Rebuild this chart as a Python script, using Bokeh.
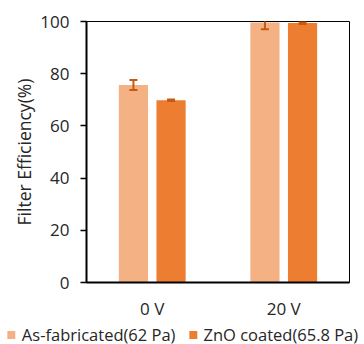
from bokeh.plotting import figure
from bokeh.layouts import column
from bokeh.models import ColumnDataSource, FactorRange, Range1d, Legend, LegendItem, FixedTicker
from bokeh.transform import dodge
from bokeh.embed import file_html
from bokeh.resources import INLINE

categories = ["0 V", "20 V"]
series_names = ["As-fabricated(62 Pa)", "ZnO coated(65.8 Pa)"]
as_fab = [75.7, 99.6]
as_fab_err = [1.9, 2.6]
zno = [69.8, 99.4]
zno_err = [0.3, 0.4]
y_ticks = [0, 20, 40, 60, 80, 100]

LIGHT = "#F4B183"
DARK = "#ED7D31"
ERR = "#C55A11"
TXT = "#262626"
FONT = "Open Sans"

src = ColumnDataSource(data=dict(
    cat=categories,
    a=as_fab, a_lo=[v - e for v, e in zip(as_fab, as_fab_err)], a_hi=[v + e for v, e in zip(as_fab, as_fab_err)],
    z=zno, z_lo=[v - e for v, e in zip(zno, zno_err)], z_hi=[v + e for v, e in zip(zno, zno_err)],
))

p = figure(width=364, height=324, x_range=FactorRange(*categories), y_range=Range1d(0, 100),
           output_backend="svg", toolbar_location=None,
           min_border_left=86, min_border_right=15, min_border_top=21, min_border_bottom=42)
p.frame_align = False

off = 0.143
w = 0.222
xa = dodge("cat", -off, range=p.x_range)
xz = dodge("cat", off, range=p.x_range)
p.vbar(x=xa, top="a", width=w, source=src, fill_color=LIGHT, line_color=None)
p.vbar(x=xz, top="z", width=w, source=src, fill_color=DARK, line_color=None)

for x, lo, hi in ((xa, "a_lo", "a_hi"), (xz, "z_lo", "z_hi")):
    p.segment(x0=x, x1=x, y0=lo, y1=hi, source=src, line_color=ERR, line_width=2)
    p.scatter(x=x, y=lo, source=src, marker="dash", size=8, line_color=ERR, line_width=2)
    p.scatter(x=x, y=hi, source=src, marker="dash", size=8, line_color=ERR, line_width=2)

p.grid.visible = False
p.outline_line_color = "black"
p.outline_line_width = 1
p.background_fill_color = "white"
p.border_fill_color = "white"

p.yaxis.ticker = FixedTicker(ticks=y_ticks)
p.yaxis.axis_label = "Filter Efficiency(%)"
p.yaxis.axis_label_text_font = FONT
p.yaxis.axis_label_text_font_style = "normal"
p.yaxis.axis_label_text_font_size = "17.5px"
p.yaxis.axis_label_text_color = TXT
p.yaxis.axis_label_standoff = 1
p.yaxis.major_label_text_font = FONT
p.yaxis.major_label_text_font_size = "17px"
p.yaxis.major_label_text_color = TXT
p.yaxis.major_label_standoff = 11
p.yaxis.major_tick_out = 6
p.yaxis.major_tick_in = 0
p.yaxis.minor_tick_line_color = None
p.yaxis.axis_line_width = 2
p.yaxis.axis_line_color = "black"
p.yaxis.major_tick_line_color = "black"
p.yaxis.major_tick_line_width = 1.5

p.xaxis.major_label_text_font = FONT
p.xaxis.major_label_text_font_size = "17px"
p.xaxis.major_label_text_color = TXT
p.xaxis.major_label_standoff = 8
p.xaxis.major_tick_line_color = None
p.xaxis.minor_tick_line_color = None
p.xaxis.axis_line_width = 2
p.xaxis.axis_line_color = "black"

# legend strip below the chart (its swatch renderers fall outside the strip's range)
lg = figure(width=364, height=20, output_backend="svg", toolbar_location=None,
            x_axis_type=None, y_axis_type=None, min_border=0,
            x_range=Range1d(-1, 0), y_range=Range1d(-1, 0))
lg.frame_align = False
lg.outline_line_color = None
lg.grid.visible = False
la = lg.vbar(x="a", top="a", width=0.1, source=src, fill_color=LIGHT, line_color=None)
lz = lg.vbar(x="z", top="z", width=0.1, source=src, fill_color=DARK, line_color=None)
legend = Legend(items=[LegendItem(label=series_names[0], renderers=[la]),
                       LegendItem(label=series_names[1], renderers=[lz])],
                orientation="horizontal", location="center",
                border_line_alpha=0, background_fill_alpha=0,
                padding=0, margin=0, spacing=12, label_standoff=6,
                glyph_width=10, glyph_height=10,
                label_text_font=FONT, label_text_font_size="16.5px", label_text_color=TXT,
                label_height=16)
lg.add_layout(legend, "center")

open("out.html", "w").write(file_html(column(p, lg), INLINE))
